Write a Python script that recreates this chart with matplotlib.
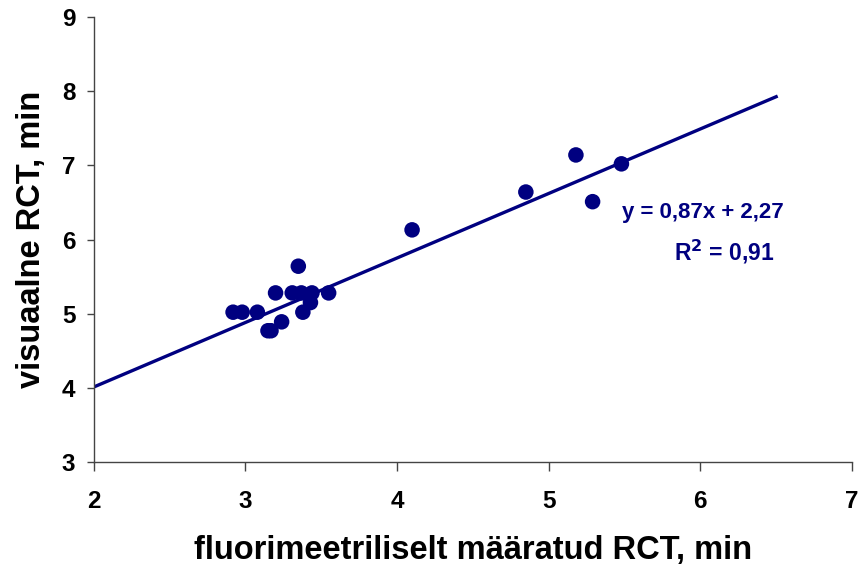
import matplotlib
matplotlib.use("Agg")
import matplotlib.pyplot as plt
import numpy as np

# Measurements: fluorimetric RCT (x) vs visual RCT (y), minutes
fluor_rct = [2.92, 2.98, 3.08, 3.38, 3.24, 3.15, 3.17, 3.20, 3.31, 3.37,
             3.44, 3.55, 3.43, 3.35, 4.10, 4.85, 5.18, 5.29, 5.48]
visual_rct = [5.02, 5.02, 5.02, 5.02, 4.89, 4.77, 4.77, 5.28, 5.28, 5.28,
              5.28, 5.28, 5.15, 5.64, 6.13, 6.64, 7.14, 6.51, 7.02]

# Linear fit shown on the chart
slope = 0.87
intercept = 2.27
r_squared = 0.91
fit_x = [2.0, 6.5]

x_ticks = [2, 3, 4, 5, 6, 7]
y_ticks = [3, 4, 5, 6, 7, 8, 9]

navy = "#000080"
plt.rcParams["font.family"] = ["Liberation Sans", "DejaVu Sans"]
plt.rcParams["font.weight"] = "bold"
plt.rcParams["mathtext.default"] = "bf"
plt.rcParams["xtick.major.pad"] = 13.5
plt.rcParams["ytick.major.pad"] = 8
plt.rcParams["xtick.labelsize"] = 17.5
plt.rcParams["ytick.labelsize"] = 17.5
plt.rcParams["xtick.major.size"] = 6.5
plt.rcParams["ytick.major.size"] = 5

fig = plt.figure(figsize=(8.58, 5.66), dpi=100)
ax = fig.add_axes([0.109, 0.1837, 0.884, 0.7863])

fx = np.array(fit_x)
ax.plot(fx, slope * fx + intercept, color=navy, lw=2.4, zorder=2)
ax.scatter(fluor_rct, visual_rct, s=125, color=navy, edgecolors="none", zorder=3)

ax.set_xlim(2, 7)
ax.set_ylim(3, 9)
ax.set_xticks(x_ticks)
ax.set_yticks(y_ticks)
ax.tick_params(direction="out", width=1, colors="#444444", labelcolor="black")
for lab in ax.get_xticklabels() + ax.get_yticklabels():
    lab.set_fontweight("bold")

for side in ("top", "right"):
    ax.spines[side].set_visible(False)
for side in ("left", "bottom"):
    ax.spines[side].set_color("#444444")
    ax.spines[side].set_linewidth(1)

ax.set_xlabel("fluorimeetriliselt määratud RCT, min", fontsize=23.5,
              fontweight="bold")
ax.set_ylabel("visuaalne RCT, min", fontsize=23.5, fontweight="bold")
ax.xaxis.set_label_coords(0.5, -0.164)
ax.yaxis.set_label_coords(-0.061, 0.5)

ax.text(6.02, 6.37, f"y = {slope:.2f}x + {intercept:.2f}".replace(".", ","),
        color=navy, fontsize=16, fontweight="bold", ha="center", va="center")
ax.text(6.16, 5.83, "R$^{2}$ = " + f"{r_squared:.2f}".replace(".", ","),
        color=navy, fontsize=16.5, fontweight="bold", ha="center", va="center")

fig.savefig("out.png", dpi=100)
